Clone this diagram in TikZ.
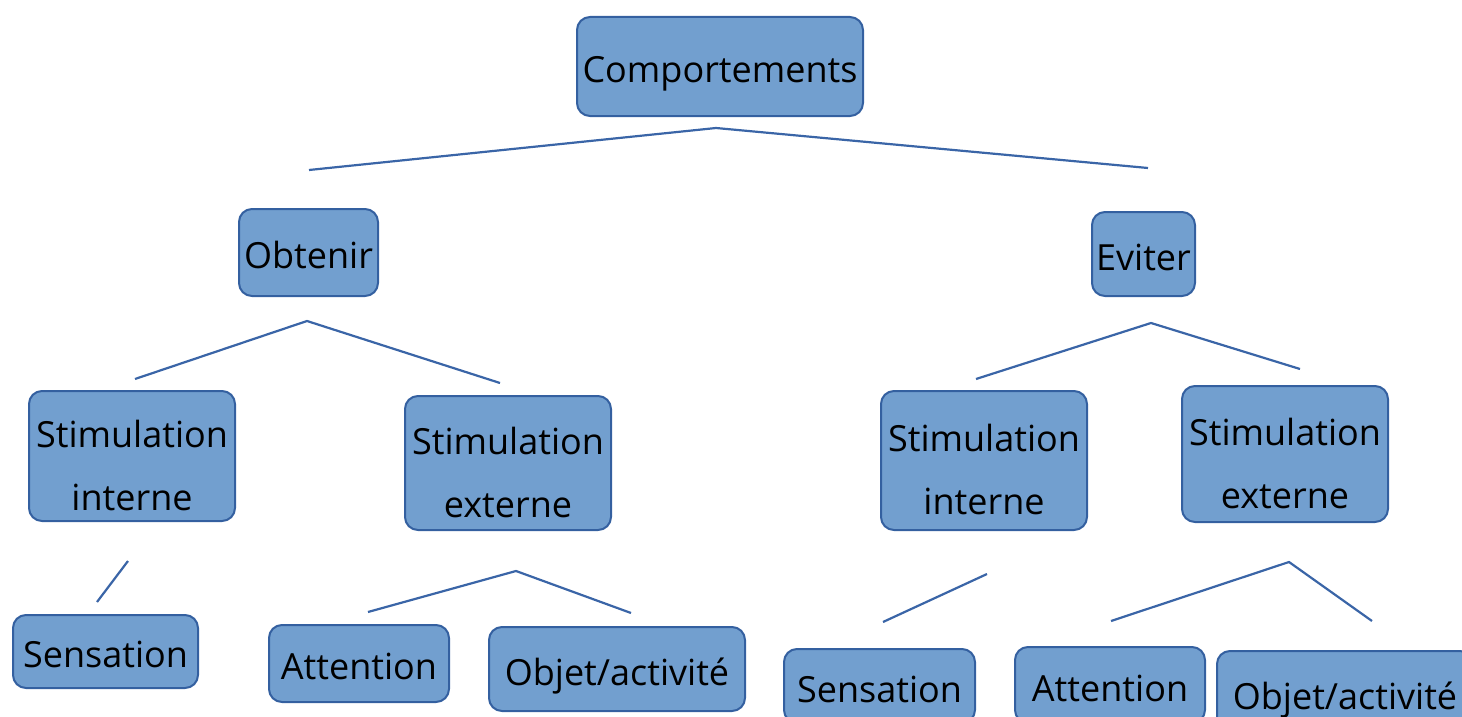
\documentclass[tikz,border=0pt]{standalone}
\usepackage{fontspec}
\setmainfont{Open Sans}
\definecolor{boxfill}{RGB}{114,159,207}
\definecolor{boxdraw}{RGB}{52,96,160}
\definecolor{linecol}{RGB}{58,101,167}
\newcommand{\twolines}[2]{\begin{tabular}[b]{@{}c@{}}#1\\#2\end{tabular}}
\begin{document}
\begin{tikzpicture}[x=1pt,y=-1pt,
  box/.style={draw=boxdraw, fill=boxfill, line width=2pt, rounded corners=13pt,
    inner sep=0pt, text=black,
    font=\fontsize{36}{63}\selectfont},
  one/.style={box, text height=32pt, text depth=0pt},
  two/.style={box, text height=108pt, text depth=0pt},
  conn/.style={draw=linecol, line width=2.2pt}]
\useasboundingbox (0,0) rectangle (1462,717);
% nodes
\node[one, minimum width=286pt, minimum height=99pt] (top) at (720,66.5) {Comportements};
\node[one, minimum width=139pt, minimum height=87pt] (obt) at (308.5,252.5) {Obtenir};
\node[one, minimum width=103pt, minimum height=84pt] (evi) at (1143.5,254) {Eviter};
\node[two, minimum width=206pt, minimum height=130pt] (sil) at (132,456) {\twolines{Stimulation}{interne}};
\node[two, minimum width=206pt, minimum height=134pt] (sel) at (508,463) {\twolines{Stimulation}{externe}};
\node[two, minimum width=206pt, minimum height=139pt] (sir) at (984,460.5) {\twolines{Stimulation}{interne}};
\node[two, minimum width=206pt, minimum height=136pt] (ser) at (1285,454) {\twolines{Stimulation}{externe}};
\node[one, minimum width=185pt, minimum height=73pt] (sensl) at (105.5,651.5) {Sensation};
\node[one, minimum width=180pt, minimum height=77pt] (attl) at (359,663.5) {Attention};
\node[one, minimum width=256pt, minimum height=84pt] (objl) at (617,669) {Objet/activité};
\node[one, minimum width=191pt, minimum height=74pt] (sensr) at (879.5,686) {Sensation};
\node[one, minimum width=190pt, minimum height=76pt] (attr) at (1110,685) {Attention};
\node[one, minimum width=256pt, minimum height=84pt] (objr) at (1345,693) {Objet/activité};
% connector points
\coordinate (a0) at (716,128);
\coordinate (a1) at (309,170);
\coordinate (a2) at (1148,168);
\coordinate (b0) at (307,321);
\coordinate (b1) at (135,379);
\coordinate (b2) at (500,383);
\coordinate (c0) at (1151,323);
\coordinate (c1) at (976,379);
\coordinate (c2) at (1300,369);
\coordinate (d0) at (128,561);
\coordinate (d1) at (97,602);
\coordinate (e0) at (516,571);
\coordinate (e1) at (368,612);
\coordinate (e2) at (631,613);
\coordinate (f0) at (987,574);
\coordinate (f1) at (883,622);
\coordinate (g0) at (1289,562);
\coordinate (g1) at (1111,621);
\coordinate (g2) at (1372,621);
% connectors
\draw[conn] (a1) -- (a0) -- (a2);
\draw[conn] (b1) -- (b0) -- (b2);
\draw[conn] (c1) -- (c0) -- (c2);
\draw[conn] (d0) -- (d1);
\draw[conn] (e1) -- (e0) -- (e2);
\draw[conn] (f0) -- (f1);
\draw[conn] (g1) -- (g0) -- (g2);
\end{tikzpicture}
\end{document}
